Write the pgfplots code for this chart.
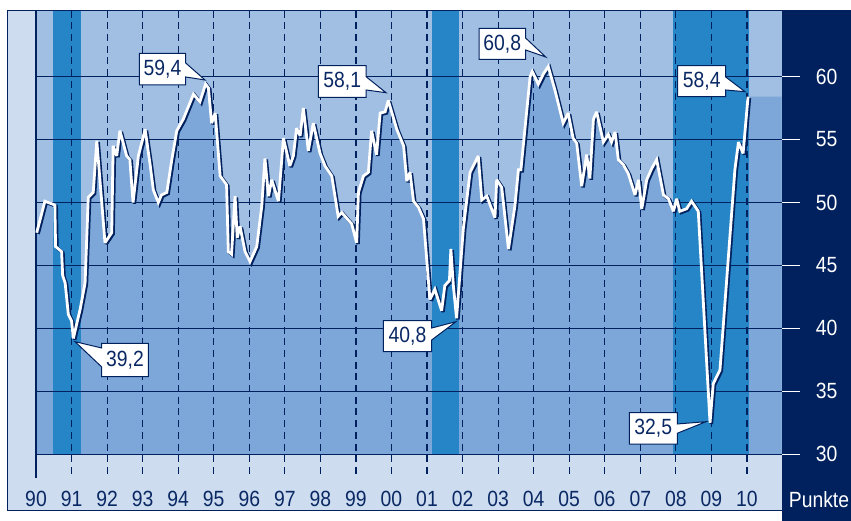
\documentclass[border=0pt]{standalone}
\usepackage{fontspec}
\setmainfont{Liberation Sans}[FakeStretch=0.88]
\usepackage{pgfplots}
\pgfplotsset{compat=1.18}
\usepackage{pgfplotstable}
\usetikzlibrary{calc}
\definecolor{mynavy}{RGB}{0,33,94}
\definecolor{txtnavy}{RGB}{10,40,100}
\definecolor{lightstrip}{RGB}{205,220,238}
\definecolor{bgblue}{RGB}{161,191,227}
\definecolor{fillblue}{RGB}{124,167,216}
\definecolor{bandblue}{RGB}{38,133,199}
\newcommand{\tickfont}{\fontsize{22bp}{26bp}\selectfont}

\pgfplotstableread{
t v
1990.02 47.6
1990.25 50.1
1990.53 49.8
1990.55 46.5
1990.72 46.1
1990.75 44.2
1990.82 43.6
1990.91 41.1
1991.00 40.6
1991.05 39.2
1991.24 41.5
1991.38 43.6
1991.47 50.4
1991.61 50.8
1991.71 54.9
1991.94 46.8
1992.13 47.6
1992.17 54.5
1992.27 53.7
1992.36 55.7
1992.55 53.7
1992.64 53.4
1992.73 50.0
1992.88 53.7
1993.07 55.8
1993.21 53.0
1993.30 51.0
1993.44 50.0
1993.53 50.6
1993.68 50.8
1993.82 53.4
1993.96 55.7
1994.14 56.6
1994.43 58.6
1994.61 58.0
1994.77 59.4
1994.85 59.1
1994.94 56.3
1995.04 57.1
1995.18 52.1
1995.36 51.4
1995.41 46.1
1995.50 45.9
1995.60 50.5
1995.66 47.2
1995.74 48.1
1995.88 46.1
1996.02 45.3
1996.21 46.5
1996.35 49.7
1996.44 53.5
1996.54 50.5
1996.63 51.8
1996.82 50.1
1996.96 55.1
1997.14 52.9
1997.24 53.7
1997.33 55.9
1997.43 55.3
1997.52 57.5
1997.66 54.1
1997.80 56.3
1997.99 53.9
1998.13 52.9
1998.32 52.1
1998.50 48.9
1998.60 49.2
1998.88 48.3
1999.02 46.8
1999.07 50.8
1999.21 52.1
1999.35 52.4
1999.44 55.7
1999.58 53.8
1999.68 57.1
1999.82 57.2
1999.91 58.1
2000.15 55.8
2000.34 54.5
2000.43 51.7
2000.52 52.4
2000.62 50.1
2000.76 49.6
2000.90 48.7
2001.08 42.3
2001.22 43.1
2001.41 41.4
2001.50 43.4
2001.63 43.8
2001.67 46.3
2001.74 43.4
2001.83 40.8
2002.02 47.9
2002.21 52.4
2002.44 53.7
2002.54 50.2
2002.68 50.5
2002.91 48.8
2002.96 51.8
2003.10 51.2
2003.29 46.3
2003.47 49.7
2003.57 52.6
2003.64 52.6
2003.90 60.0
2003.96 60.4
2004.13 59.4
2004.27 60.2
2004.41 60.8
2004.60 58.9
2004.83 56.3
2004.97 57.1
2005.11 55.1
2005.21 54.7
2005.35 51.3
2005.49 53.8
2005.58 51.9
2005.68 56.6
2005.77 57.2
2005.96 54.8
2006.10 55.4
2006.19 54.8
2006.29 55.6
2006.38 53.4
2006.52 53.0
2006.66 52.3
2006.85 50.6
2006.95 51.8
2007.04 49.5
2007.18 51.8
2007.32 52.7
2007.46 53.4
2007.65 50.6
2007.79 50.3
2007.93 49.3
2008.02 50.3
2008.11 49.3
2008.30 49.5
2008.44 50.1
2008.63 49.3
2008.96 32.5
2009.05 35.6
2009.24 36.7
2009.66 52.6
2009.76 54.8
2009.89 53.9
2010.03 58.4
}\isdata

\newcommand{\calloutR}[9]{%
 \filldraw[fill=white,draw=mynavy,line width=1bp,line join=miter]
 ($(axis cs:#1,#2)+(-#3bp,#4bp)$) -- ($(axis cs:#1,#2)+(#3bp,#4bp)$) --
 ($(axis cs:#1,#2)+(#3bp,#5bp)$) -- (axis cs:#7,#8) --
 ($(axis cs:#1,#2)+(#3bp,#6bp)$) -- ($(axis cs:#1,#2)+(#3bp,-#4bp)$) --
 ($(axis cs:#1,#2)+(-#3bp,-#4bp)$) -- cycle;
 \node[text=txtnavy,font=\tickfont,inner sep=0pt] at (axis cs:#1,#2) {#9};}

\begin{document}
\begin{tikzpicture}
\begin{axis}[
  width=745.7bp, height=443.6bp, scale only axis,
  xmin=1990, xmax=2010.976, ymin=30, ymax=65.234,
  clip=false,
  axis line style={draw=none},
  major tick length=0pt,
  axis on top,
  xtick={1990,...,2010},
  xticklabels={90,91,92,93,94,95,96,97,98,99,00,01,02,03,04,05,06,07,08,09,10},
  ytick={30,35,40,45,50,55,60},
  yticklabel pos=right,
  /pgf/number format/assume math mode=true,
  xticklabel style={text=txtnavy,font=\tickfont,anchor=center,yshift=-45bp},
  yticklabel style={text=white,font=\tickfont,anchor=center,xshift=45bp},
]
% bounding box of the whole picture
\path (axis cs:1988.987,24.702) rectangle (axis cs:2012.926,66.084);
% outer light frame
\fill[lightstrip] (axis cs:1989.193,25.497) rectangle (axis cs:2010.976,65.234);
% navy panel
\fill[mynavy] (axis cs:2010.976,24.702) rectangle (axis cs:2012.926,65.26);
% plot background
\fill[bgblue] (axis cs:1990,30) rectangle (axis cs:2010.976,65.234);
% area under the index
\addplot[fill=fillblue,draw=none] table[x=t,y=v] {\isdata}
  -- (axis cs:2010.976,58.4) -- (axis cs:2010.976,30) -- (axis cs:1990,30) -- (axis cs:1990,47.6) -- cycle;
% recession bands
\addplot[fill=bandblue,draw=none] coordinates {(1990.49,30) (1990.49,65.234) (1991.27,65.234) (1991.27,30)} -- cycle;
\addplot[fill=bandblue,draw=none] coordinates {(2001.15,30) (2001.15,65.234) (2001.90,65.234) (2001.90,30)} -- cycle;
\addplot[fill=bandblue,draw=none] coordinates {(2007.93,30) (2007.93,65.234) (2010.06,65.234) (2010.06,30)} -- cycle;
% horizontal grid
\pgfplotsinvokeforeach{35,40,45,50,55,60}{
  \draw[mynavy,line width=1.3bp] (axis cs:1990,#1) -- (axis cs:2010.976,#1);
  \draw[white,line width=1.3bp] (axis cs:2010.976,#1) -- (axis cs:2011.49,#1);
}
\draw[white,line width=1.3bp] (axis cs:2010.976,30) -- (axis cs:2011.49,30);
\draw[mynavy,line width=1.5bp] (axis cs:1990,30) -- (axis cs:2010.976,30);
% vertical dashed year lines
\pgfplotsinvokeforeach{1991,...,2010}{
  \draw[mynavy,line width=1.2bp,dash pattern=on 7bp off 4.7bp] (axis cs:#1,65.234) -- (axis cs:#1,28.12);
}
\draw[mynavy,line width=1.3bp] (axis cs:1990,65.234) -- (axis cs:1990,28.12);
% index line with shadow
\addplot[mynavy,line width=3.4bp,line join=miter,miter limit=3,xshift=1.4bp,yshift=-1.2bp] table[x=t,y=v] {\isdata};
\addplot[white,line width=2.8bp,line join=miter,miter limit=3] table[x=t,y=v] {\isdata};
% callouts
\calloutR{1993.558}{60.588}{23.2}{15.8}{6.2}{-7.8}{1994.754}{59.730}{59,4}
\calloutR{1998.613}{59.611}{23.9}{15.8}{4.8}{-8.5}{1999.845}{58.721}{58,1}
\calloutR{2003.117}{62.605}{23.3}{15.5}{5.8}{-6.2}{2004.338}{61.557}{60,8}
\calloutR{2000.450}{39.380}{24.2}{15.5}{8.2}{-3.8}{2001.814}{40.532}{40,8}
\calloutR{2008.726}{59.635}{24.0}{15.5}{4.2}{-8.8}{2009.944}{58.801}{58,4}
\calloutR{2007.364}{32.057}{24.0}{15.7}{4.4}{-4.9}{2008.847}{32.589}{32,5}
% left-pointing callout 39,2
\filldraw[fill=white,draw=mynavy,line width=1bp,line join=miter]
 ($(axis cs:1992.504,37.490)+(23.3bp,16.7bp)$) -- ($(axis cs:1992.504,37.490)+(-23.3bp,16.7bp)$) --
 ($(axis cs:1992.504,37.490)+(-23.3bp,12bp)$) -- (axis cs:1991.097,38.944) --
 ($(axis cs:1992.504,37.490)+(-23.3bp,-7bp)$) -- ($(axis cs:1992.504,37.490)+(-23.3bp,-16.7bp)$) --
 ($(axis cs:1992.504,37.490)+(23.3bp,-16.7bp)$) -- cycle;
\node[text=txtnavy,font=\tickfont,inner sep=0pt] at (axis cs:1992.504,37.490) {39,2};
% unit
\node[text=white,font=\tickfont,inner sep=0pt] at ($(axis cs:2010.976,30)+(37.3bp,-45.7bp)$) {Punkte};
% frame border
\draw[mynavy,line width=1bp] (axis cs:2010.976,25.497) -- (axis cs:1989.193,25.497) -- (axis cs:1989.193,65.234) -- (axis cs:2010.976,65.234);
\end{axis}
\end{tikzpicture}
\end{document}
